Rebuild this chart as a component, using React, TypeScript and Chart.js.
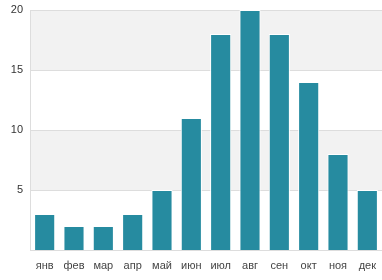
import React, { useEffect, useRef } from "react";
import { Chart, registerables } from "chart.js";

Chart.register(...registerables);

const categories = ["янв", "фев", "мар", "апр", "май", "июн", "июл", "авг", "сен", "окт", "ноя", "дек"];
const values = [3, 2, 2, 3, 5, 11, 18, 20, 18, 14, 8, 5];
const yTicks = [5, 10, 15, 20];
const bands = [[5, 10], [15, 20]];

const bandPlugin = {
  id: "bands",
  beforeDraw(chart: any) {
    const { ctx, chartArea, scales } = chart;
    const y = scales.y;
    ctx.save();
    ctx.fillStyle = "#f2f2f2";
    for (const [a, b] of bands) {
      const y1 = y.getPixelForValue(b);
      const y2 = y.getPixelForValue(a);
      ctx.fillRect(chartArea.left, y1, chartArea.right - chartArea.left, y2 - y1);
    }
    ctx.restore();
  },
};

export default function App() {
  const ref = useRef<HTMLCanvasElement>(null);
  useEffect(() => {
    document.body.style.margin = "0";
    const chart = new Chart(ref.current!, {
      type: "bar",
      data: {
        labels: categories,
        datasets: [
          {
            data: values,
            backgroundColor: "#268ba0",
            borderColor: "#ffffff",
            borderWidth: 1,
            borderSkipped: "bottom",
            categoryPercentage: 1,
            barPercentage: 0.72,
          },
        ],
      },
      options: {
        animation: false,
        responsive: false,
        devicePixelRatio: 1,
        layout: { padding: { top: 10, right: 0, left: 0, bottom: 0 } },
        plugins: { legend: { display: false }, tooltip: { enabled: false } },
        scales: {
          x: {
            grid: { display: false, drawTicks: false },
            border: { display: true, color: "#dddddd", width: 1 },
            ticks: { color: "#444444", font: { family: "Liberation Sans, Arial", size: 11 }, padding: 9, maxRotation: 0 },
            afterFit(scale: any) {
              scale.height = 30;
              scale.paddingLeft = 0;
              scale.paddingRight = 0;
            },
          },
          y: {
            min: 0,
            max: 20,
            afterBuildTicks(scale: any) { scale.ticks = yTicks.map((v) => ({ value: v })); },
            grid: { color: "#dddddd", drawTicks: false, lineWidth: 1 },
            border: { display: true, color: "#dddddd", width: 1 },
            ticks: { color: "#333333", font: { family: "Liberation Sans, Arial", size: 11 }, padding: 7 },
            afterFit(scale: any) {
              scale.width = 30;
              scale.paddingTop = 0;
              scale.paddingBottom = 0;
            },
          },
        },
      },
      plugins: [bandPlugin],
    } as any);
    return () => chart.destroy();
  }, []);
  return (
    <div style={{ width: 382, height: 280, background: "#fff" }}>
      <canvas ref={ref} width={382} height={280} />
    </div>
  );
}
